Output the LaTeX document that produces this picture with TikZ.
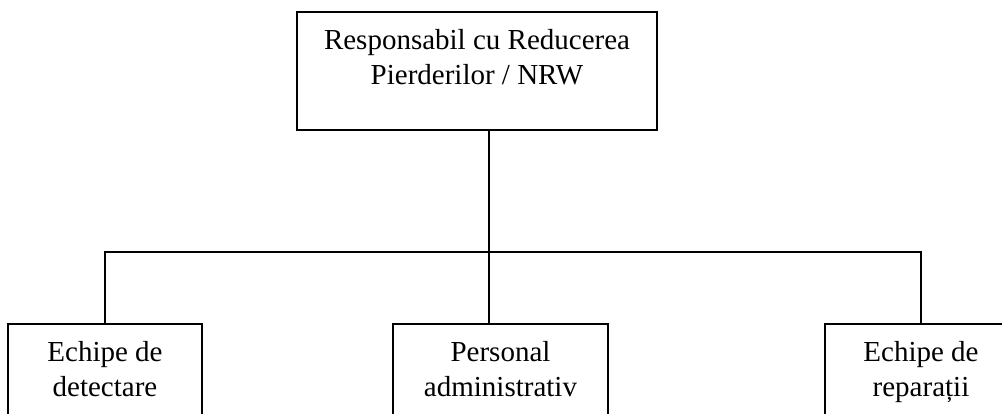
\documentclass[tikz,border=0pt]{standalone}
\usepackage{fontspec}
\setmainfont{Liberation Serif}
\begin{document}
\begin{tikzpicture}[x=1pt,y=-1pt,
  box/.style={draw,line width=2pt,inner sep=0pt,minimum height=#1},
  box/.default=118pt,
  txt/.style={anchor=base,inner sep=0pt,font=\fontsize{29pt}{35pt}\selectfont},
  wire/.style={line width=1.8pt}]
\useasboundingbox (0,0) rectangle (1002,414);
\begin{scope}
\clip (0,0) rectangle (1002,414);
% boxes
\node[box, minimum width=360pt] (top) at (477,71) {};
\node[box=130pt, minimum width=194pt] (left) at (105,389) {};
\node[box=130pt, minimum width=215pt] (mid) at (500.5,389) {};
\node[box=130pt, minimum width=192pt] (right) at (921,389) {};
% labels
\node[txt] (t1) at (477,50) {Responsabil cu Reducerea};
\node[txt] (t2) at (477,85) {Pierderilor / NRW};
\node[txt] (l1) at (105,361) {Echipe de};
\node[txt] (l2) at (105,396) {detectare};
\node[txt] (m1) at (500.5,361) {Personal};
\node[txt] (m2) at (500.5,396) {administrativ};
\node[txt] (r1) at (921,361) {Echipe de};
\node[txt] (r2) at (921,396) {reparații};
% connectors
\coordinate (j) at (489,252);
\draw[wire] (top.south -| j) -- (mid.north -| j);
\draw[wire] (left.north) -- (left.north |- j) -- (right.north |- j) -- (right.north);
\end{scope}
\end{tikzpicture}
\end{document}
